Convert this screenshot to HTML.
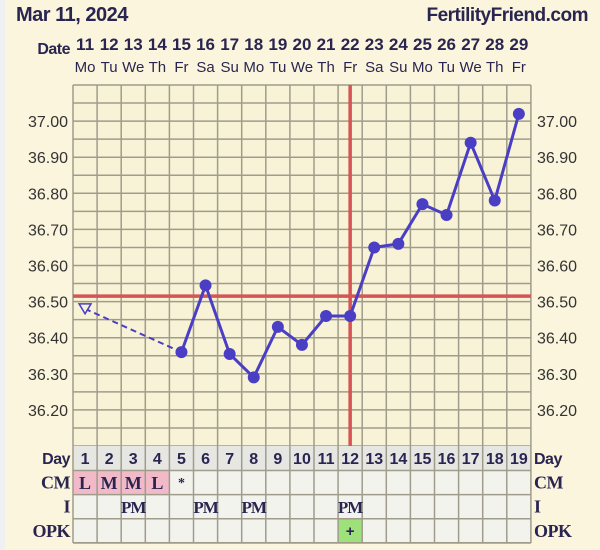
<!DOCTYPE html>
<html><head><meta charset="utf-8"><style>
body{margin:0;width:600px;height:550px;background:#faf5dc;overflow:hidden;font-family:"Liberation Sans",sans-serif}
svg{display:block}
</style></head><body>
<svg id="chart" width="600" height="550">
<rect x="0" y="0" width="5" height="550" fill="#eef0f2"/>
<g id="g"></g>
</svg>
<script>
const dates=[11,12,13,14,15,16,17,18,19,20,21,22,23,24,25,26,27,28,29];
const weekdays=["Mo","Tu","We","Th","Fr","Sa","Su","Mo","Tu","We","Th","Fr","Sa","Su","Mo","Tu","We","Th","Fr"];
const tempDays=[15,16,17,18,19,20,21,22,23,24,25,26,27,28,29];
const temps=[36.36,36.545,36.355,36.29,36.43,36.38,36.46,36.46,36.65,36.66,36.77,36.74,36.94,36.78,37.02];
const openDay=11, openTemp=36.48;
const coverline=36.515, ovDay=22;
const yTicks=["37.00","36.90","36.80","36.70","36.60","36.50","36.40","36.30","36.20"];
const cm=["L","M","M","L","*","","","","","","","","","","","","","",""];
const intercourse=["","","PM","","","PM","","PM","","","","PM","","","","","","",""];
const opk=["","","","","","","","","","","","+","","","","","","",""];

const L=73,CW=24.1,T=85,TMAX=37.10,PX=361;
const NS="http://www.w3.org/2000/svg";
const g=document.getElementById('g');
function xC(i){return L+CW*i+CW/2}
function xD(d){return xC(dates.indexOf(d))}
function y(t){return T+(TMAX-t)*PX}
function el(tag,a,txt){const e=document.createElementNS(NS,tag);for(const k in a)e.setAttribute(k,a[k]);if(txt!==undefined)e.textContent=txt;g.appendChild(e);return e}
const R=L+CW*19, B=446;
let e;
e=el('rect',{x:L,y:T,width:R-L,height:B-T,fill:'#f8f3d6'});

for(let k=0;k<=20;k++){e=el('line',{x1:L,x2:R,y1:T+k*(B-T)/20,y2:T+k*(B-T)/20,stroke:'#a09c8c','stroke-width':1.5});
}
const rows=[{y:446,fill:'#e6e6e2',lab:'Day'},{y:470.5,fill:'#f3f3ee',lab:'CM'},{y:494.7,fill:'#f3f3ee',lab:'I'},{y:518.8,fill:'#f3f3ee',lab:'OPK'}];
const RH=24.1;
rows.forEach((r,ri)=>{
 e=el('rect',{x:L,y:r.y,width:R-L,height:RH,fill:r.fill});
 
 const serif=ri>0;
 e=el('text',{x:70,y:r.y+18,'text-anchor':'end','font-size':serif?18:16,'font-weight':'bold',fill:'#2a2550','font-family':serif?'"Liberation Serif",serif':'"Liberation Sans",sans-serif','letter-spacing':'-0.5'},r.lab);
 
 e=el('text',{x:534,y:r.y+18,'font-size':serif?18:16,'font-weight':'bold',fill:'#2a2550','font-family':serif?'"Liberation Serif",serif':'"Liberation Sans",sans-serif','letter-spacing':'-0.5'},r.lab);
 
});
cm.forEach((c,i)=>{if(c&&c!=='*'){e=el('rect',{x:L+CW*i,y:470.5,width:CW,height:RH,fill:'#f2b9c9'});}});
opk.forEach((c,i)=>{if(c){e=el('rect',{x:L+CW*i,y:518.8,width:CW,height:RH,fill:'#9ee07a'});}});
for(let k=0;k<4;k++){const yy=470.5+k*RH;e=el('line',{x1:L,x2:R,y1:yy,y2:yy,stroke:'#a09c8c','stroke-width':1.5});}
e=el('line',{x1:L,x2:R,y1:543,y2:543,stroke:'#a09c8c','stroke-width':1.5});
for(let i=0;i<=19;i++){e=el('line',{x1:L+CW*i,x2:L+CW*i,y1:T,y2:543,stroke:'#a09c8c','stroke-width':1.5});}
dates.forEach((d,i)=>{
 e=el('text',{x:xC(i),y:50,'text-anchor':'middle','font-size':17,'font-weight':'bold',fill:'#2a2550'},d);
 e=el('text',{x:xC(i),y:72,'text-anchor':'middle','font-size':15,fill:'#2a2550'},weekdays[i]);
 e=el('text',{x:xC(i),y:464,'text-anchor':'middle','font-size':16,'font-weight':'bold',fill:'#2a2550'},i+1);
 if(cm[i]){e=el('text',{x:xC(i),y:cm[i]==='*'?487:489,'text-anchor':'middle','font-size':cm[i]==='*'?14:18,'font-weight':'bold',fill:'#2a2550','font-family':'"Liberation Serif",serif'},cm[i]);}
 if(intercourse[i]){e=el('text',{x:xC(i),y:513,'text-anchor':'middle','font-size':17,'font-weight':'bold',fill:'#2a2550','font-family':'"Liberation Serif",serif','letter-spacing':'-1'},intercourse[i]);}
 if(opk[i]){e=el('text',{x:xC(i),y:536,'text-anchor':'middle','font-size':15,'font-weight':'bold',fill:'#2a2550'},opk[i]);}
});
e=el('text',{x:70,y:54,'text-anchor':'end','font-size':16,'font-weight':'bold',fill:'#2a2550','letter-spacing':'-0.5'},'Date');
yTicks.forEach(t=>{const v=parseFloat(t);
 e=el('text',{x:68,y:y(v)+6,'text-anchor':'end','font-size':16,fill:'#333'},t);
 e=el('text',{x:537,y:y(v)+6,'font-size':16,fill:'#333'},t);
});
e=el('text',{x:16,y:21,'font-size':20,'font-weight':'bold',fill:'#2a2550','letter-spacing':'-0.5'},'Mar 11, 2024');
e=el('text',{x:588,y:21,'text-anchor':'end','font-size':19,'font-weight':'bold',fill:'#2a2550','letter-spacing':'-0.5'},'FertilityFriend.com');
e=el('line',{x1:L,x2:R,y1:y(coverline),y2:y(coverline),stroke:'#d65454','stroke-width':3.5});
e=el('line',{x1:xD(ovDay),x2:xD(ovDay),y1:T,y2:B,stroke:'#d65454','stroke-width':3.5});
e=el('line',{x1:xD(openDay),y1:y(openTemp),x2:xD(tempDays[0]),y2:y(temps[0]),stroke:'#4a3fc4','stroke-width':2,'stroke-dasharray':'6,4'});
const tx=xD(openDay),ty=y(openTemp);
e=el('polygon',{points:`${tx-6},${ty-5} ${tx+6},${ty-5} ${tx},${ty+5}`,fill:'#f8f3d6',stroke:'#4a3fc4','stroke-width':1.5});
e=el('polyline',{points:tempDays.map((d,i)=>xD(d)+','+y(temps[i])).join(' '),fill:'none',stroke:'#4a3fc4','stroke-width':3});
tempDays.forEach((d,i)=>{e=el('circle',{cx:xD(d),cy:y(temps[i]),r:6,fill:'#4a3fc4'});});
</script>
</body></html>
